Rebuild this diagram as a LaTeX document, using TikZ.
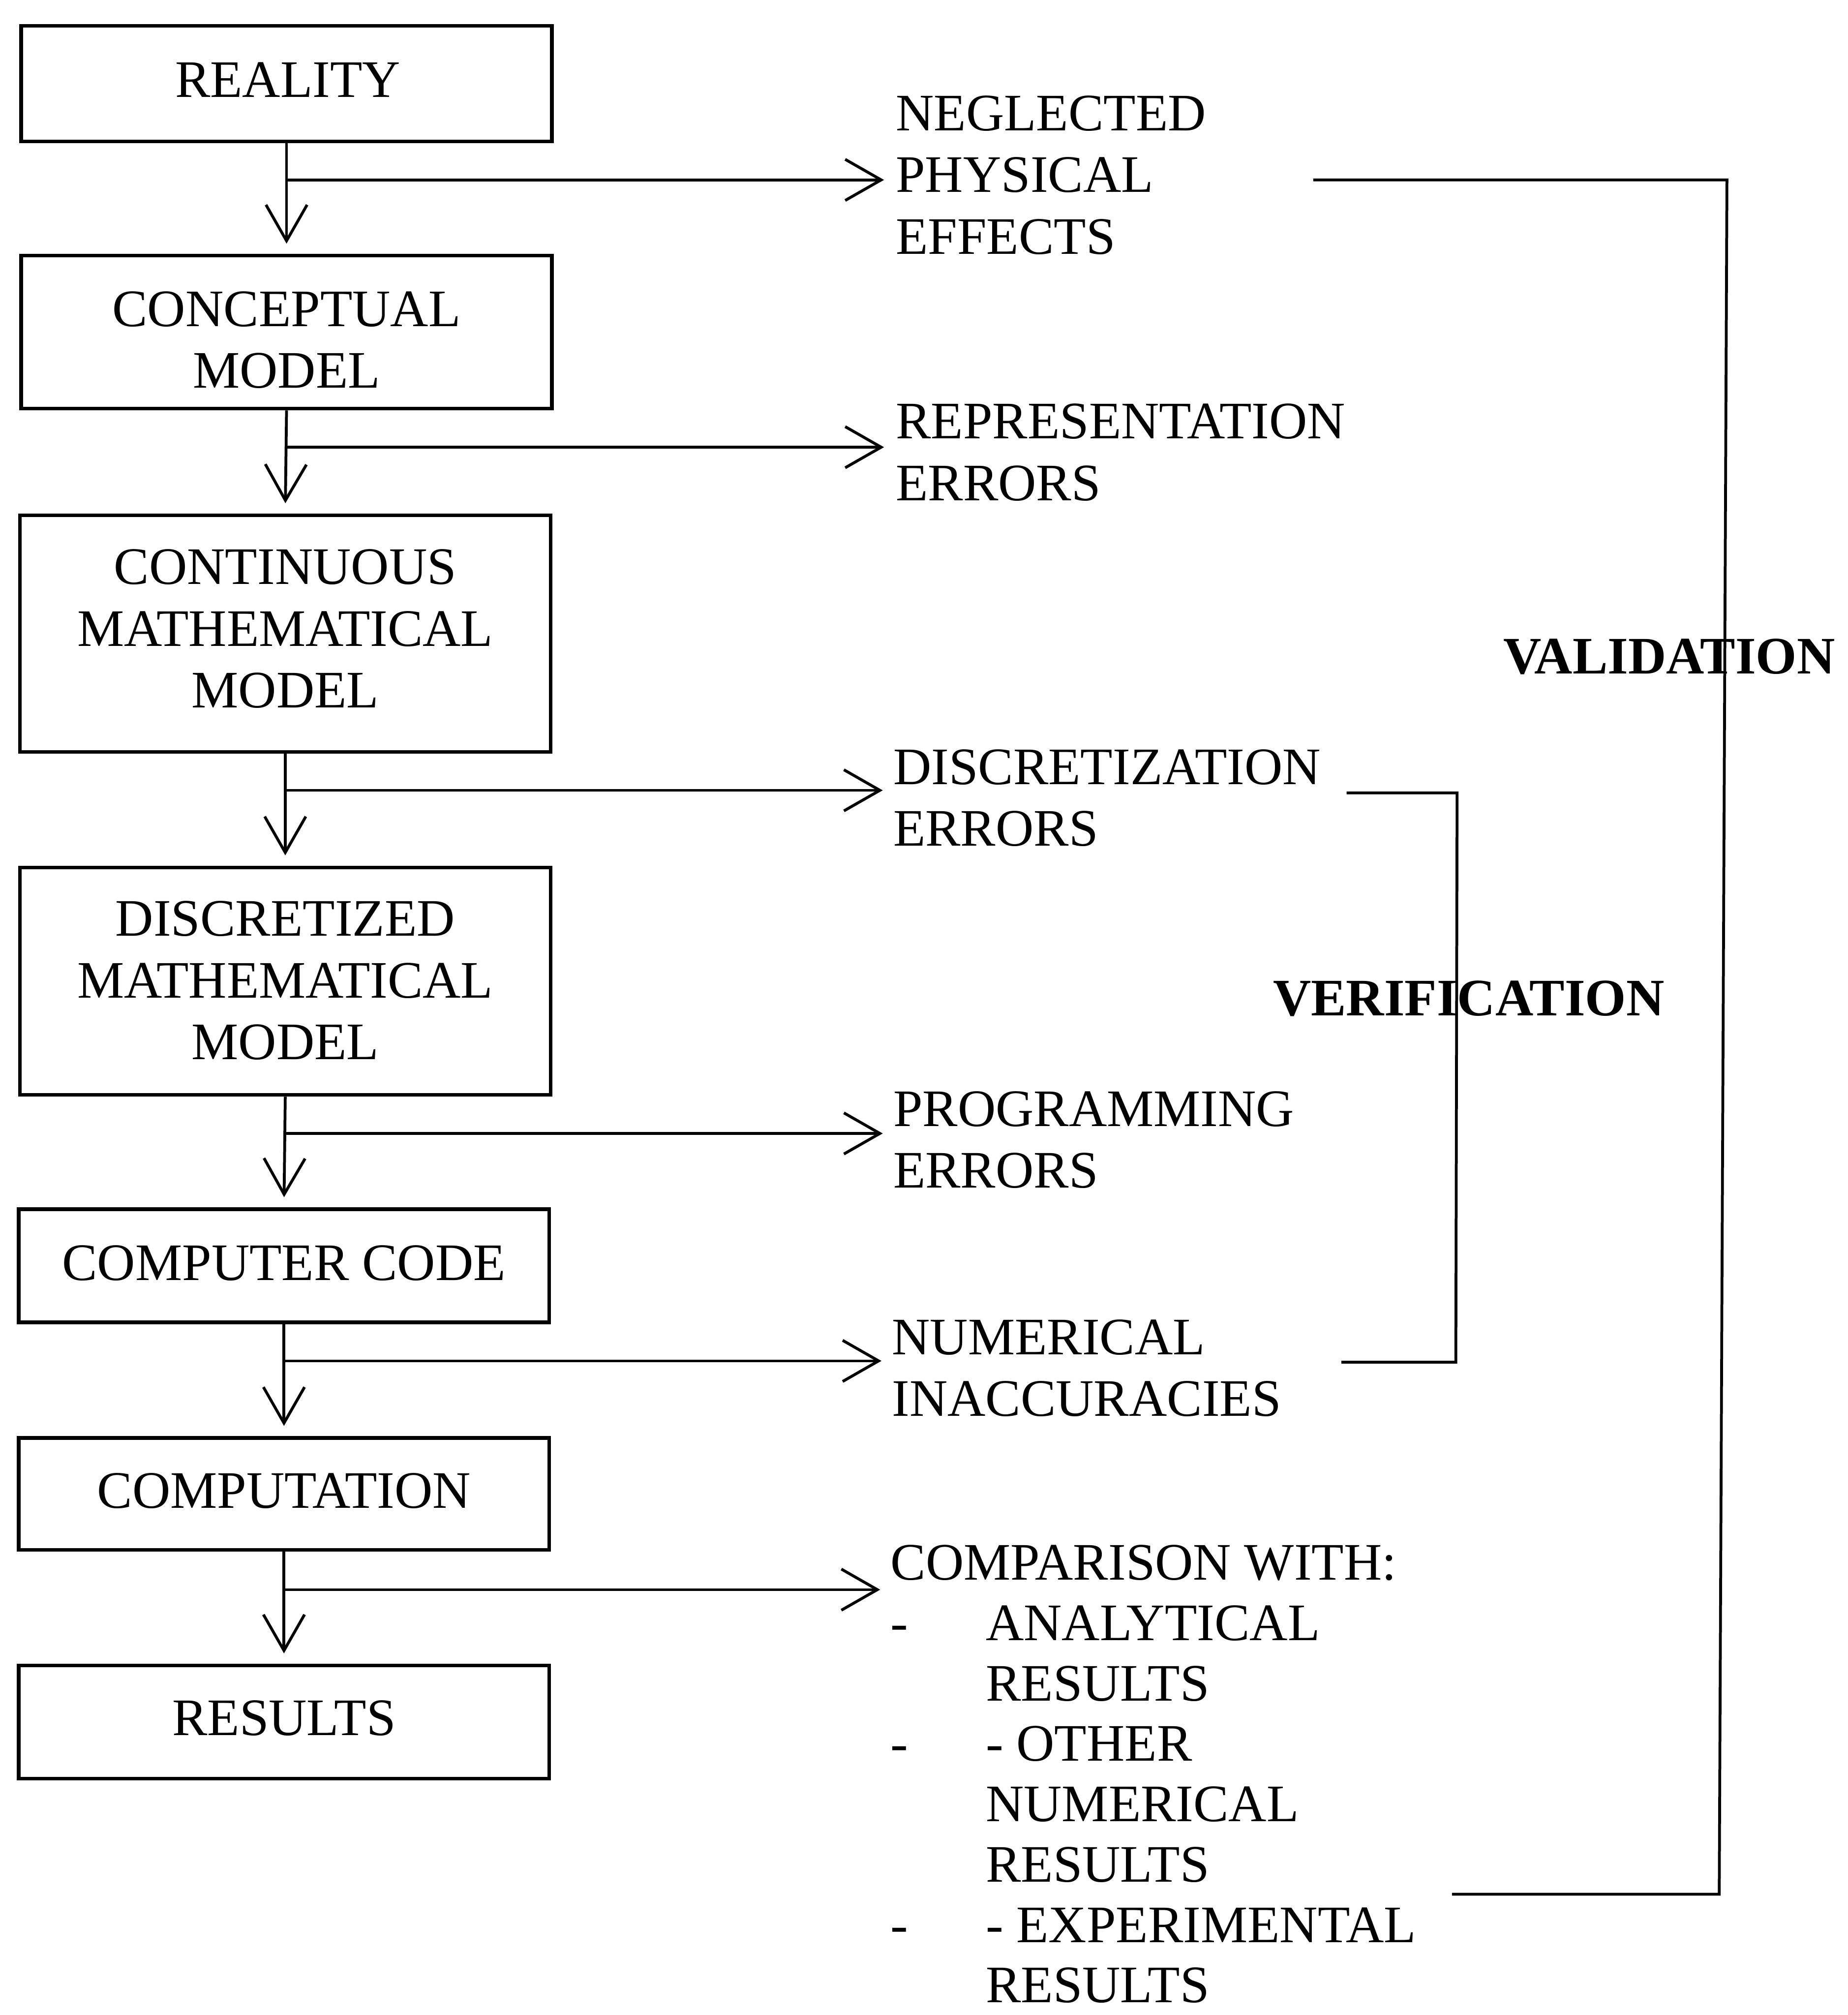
\documentclass[tikz,border=0pt]{standalone}
\usepackage{fontspec}
\setmainfont{Liberation Serif}
\usetikzlibrary{arrows.meta}
\begin{document}
\begin{tikzpicture}[x=1pt,y=-1pt,
  txt/.style={font=\fontsize{41}{48}\selectfont, inner sep=0pt},
  stage/.style={draw, line width=2.8pt, minimum width=413pt},
  stagetxt/.style={txt, align=center},
  lbl/.style={txt, anchor=west, align=left},
  bold/.style={font=\fontsize{41}{48}\selectfont\bfseries, inner sep=0pt},
  flow/.style={line width=2.2pt, -{Straight Barb[length=28pt,width=32pt,line width=2.2pt]}},
  brk/.style={line width=2.2pt}]
\useasboundingbox (0,0) rectangle (1438,1568);
% boxes
\node[stage, minimum height=90pt]  (real) at (223,65) {};
\node[stage, minimum height=119pt] (conc) at (223,258.5) {};
\node[stage, minimum height=184pt] (cont) at (222,493) {};
\node[stage, minimum height=177pt] (disc) at (222,763.5) {};
\node[stage, minimum height=88pt]  (code) at (221,985) {};
\node[stage, minimum height=87pt]  (comp) at (221,1162.5) {};
\node[stage, minimum height=88pt]  (res)  at (221,1340) {};
% box texts
\node[stagetxt] (realt) at (224,62) {REALITY};
\node[stagetxt] (conct) at (223,264.5) {CONCEPTUAL\\MODEL};
\node[stagetxt] (contt) at (222,489.3) {CONTINUOUS\\MATHEMATICAL\\MODEL};
\node[stagetxt] (disct) at (222,763) {DISCRETIZED\\MATHEMATICAL\\MODEL};
\node[stagetxt] (codet) at (221,983) {COMPUTER CODE};
\node[stagetxt] (compt) at (221,1160) {COMPUTATION};
\node[stagetxt] (rest)  at (221,1337) {RESULTS};
% vertical arrows
\draw[flow, shorten >=8pt] (real.south) -- (conc.north);
\draw[flow, shorten >=8pt] (conc.south) -- (cont.north);
\draw[flow, shorten >=8pt] (cont.south) -- (disc.north);
\draw[flow, shorten >=8pt] (disc.south) -- (code.north);
\draw[flow, shorten >=8pt] (code.south) -- (comp.north);
\draw[flow, shorten >=8pt] (comp.south) -- (res.north);
% right labels
\node[lbl] (neg)  at (697,136.3) {NEGLECTED\\PHYSICAL\\EFFECTS};
\node[lbl] (rep)  at (697,352) {REPRESENTATION\\ERRORS};
\node[lbl] (dis)  at (695,621) {DISCRETIZATION\\ERRORS};
\node[lbl] (prog) at (695,887) {PROGRAMMING\\ERRORS};
\node[lbl] (num)  at (694,1064.5) {NUMERICAL\\INACCURACIES};
\node[lbl, font=\fontsize{41}{47}\selectfont] (cmp) at (693,1380.5) {COMPARISON WITH:\\
\makebox[74pt][l]{-}ANALYTICAL\\
\hspace*{74pt}RESULTS\\
\makebox[74pt][l]{-}- OTHER\\
\hspace*{74pt}NUMERICAL\\
\hspace*{74pt}RESULTS\\
\makebox[74pt][l]{-}- EXPERIMENTAL\\
\hspace*{74pt}RESULTS};
% branch arrows
\coordinate (b1) at (223,140);  \coordinate (e1) at (688,140);
\coordinate (b2) at (223,348);  \coordinate (e2) at (688,348);
\coordinate (b3) at (222,615);  \coordinate (e3) at (687,615);
\coordinate (b4) at (222,882);  \coordinate (e4) at (687,882);
\coordinate (b5) at (221,1059); \coordinate (e5) at (686,1059);
\coordinate (b6) at (221,1237); \coordinate (e6) at (685,1237);
\draw[flow] (b1) -- (e1);
\draw[flow] (b2) -- (e2);
\draw[flow] (b3) -- (e3);
\draw[flow] (b4) -- (e4);
\draw[flow] (b5) -- (e5);
\draw[flow] (b6) -- (e6);
% bracket labels
\node[bold] (val) at (1299,511) {VALIDATION};
\node[bold] (ver) at (1143,777) {VERIFICATION};
% validation bracket
\coordinate (va) at (1022,140);
\coordinate (vb) at (1344,140);
\coordinate (vc) at (1338,1474);
\coordinate (vd) at (1130,1474);
\draw[brk] (va) -- (vb) -- (vc) -- (vd);
% verification bracket
\coordinate (wa) at (1048,617);
\coordinate (wb) at (1134,617);
\coordinate (wc) at (1133,1060);
\coordinate (wd) at (1044,1060);
\draw[brk] (wa) -- (wb) -- (wc) -- (wd);
\end{tikzpicture}
\end{document}
